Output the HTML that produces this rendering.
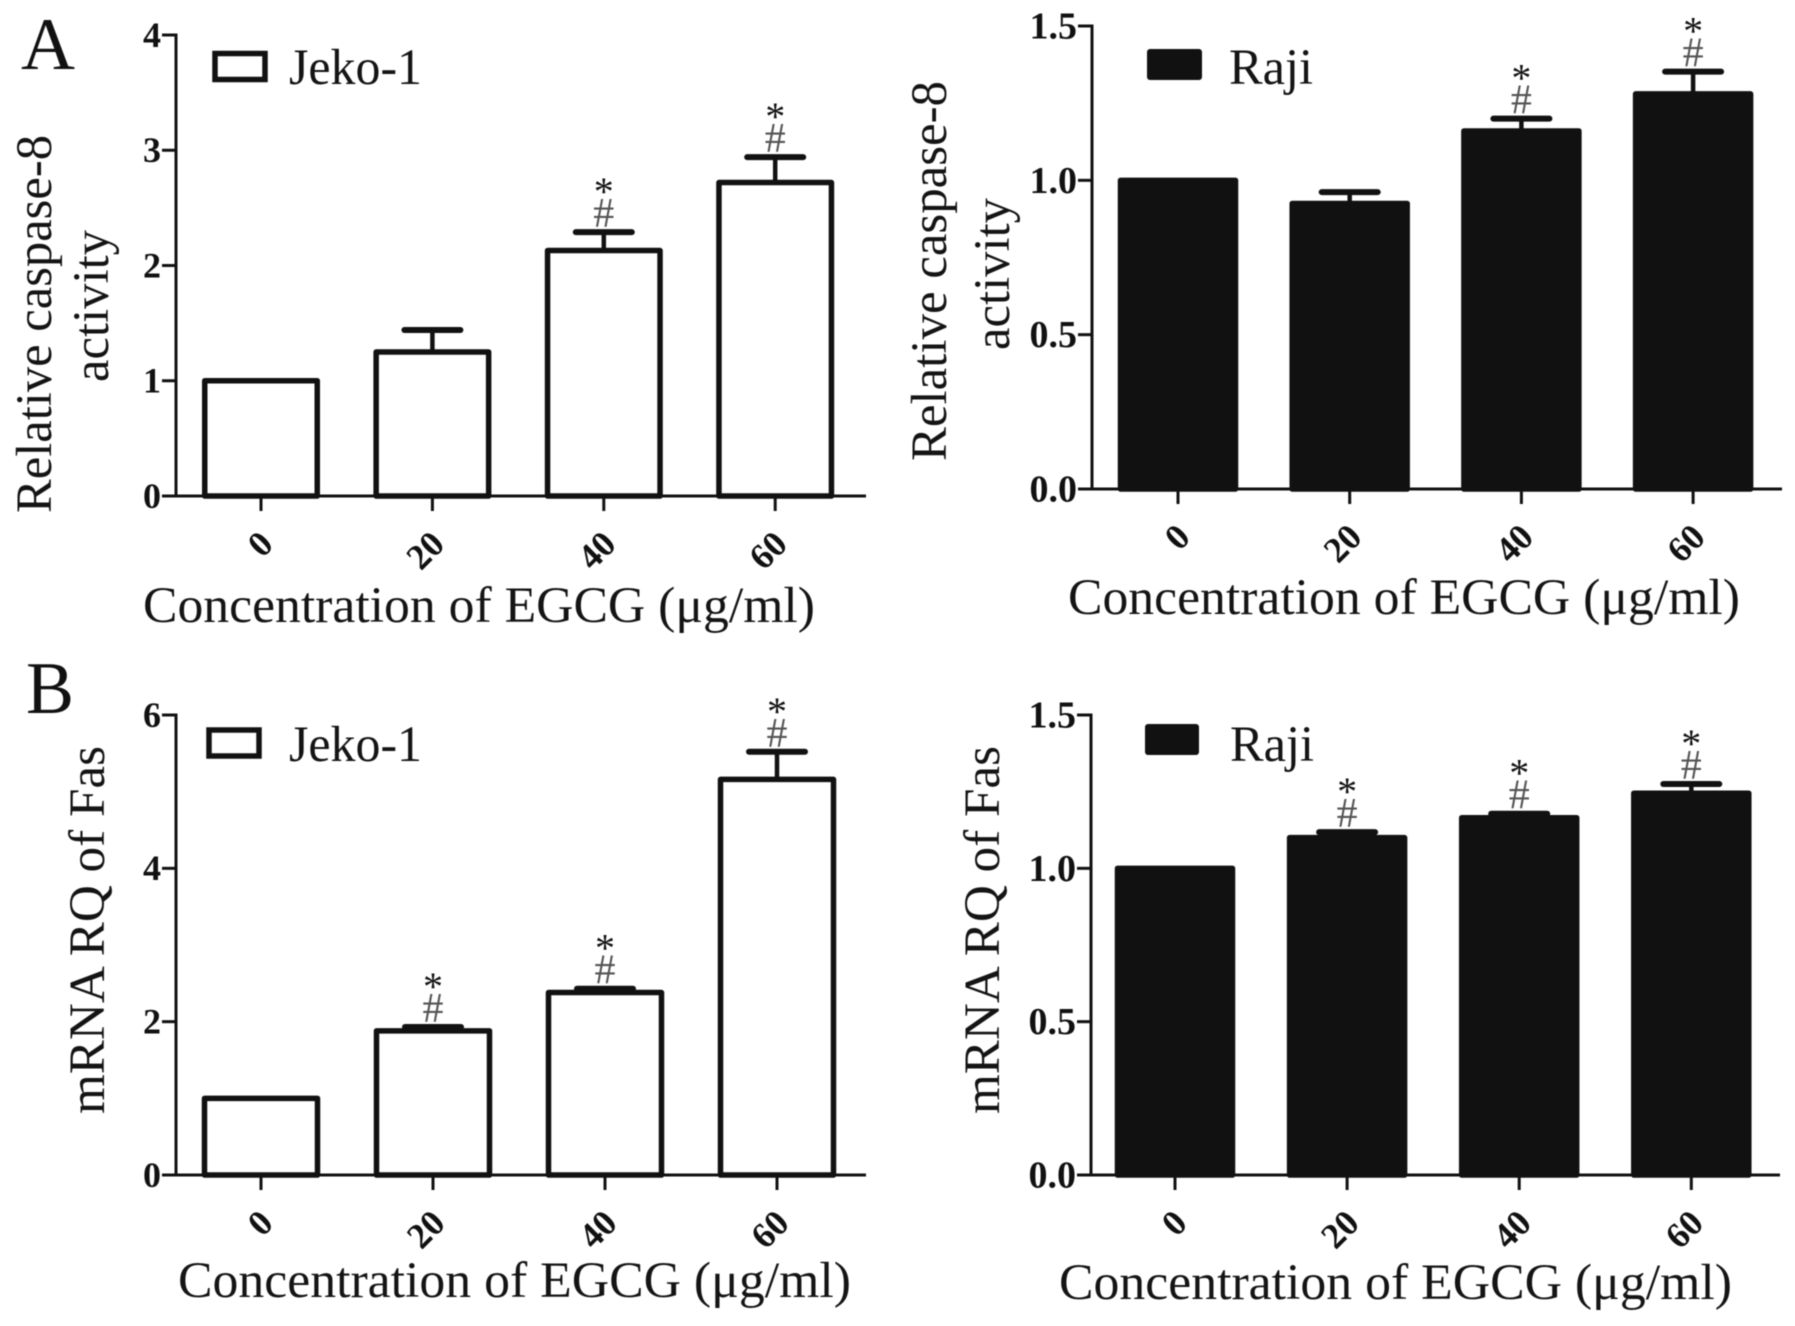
<!DOCTYPE html>
<html lang="en">
<head>
<meta charset="utf-8">
<title>Caspase-8 activity and Fas mRNA in Jeko-1 and Raji cells</title>
<style>
html,body{margin:0;padding:0;background:#fff;width:1795px;height:1326px;overflow:hidden}
svg{display:block;font-family:"Liberation Serif",serif;filter:blur(0.5px)}
.title{font-size:51px;fill:#141414}
.legend{font-size:51px;fill:#141414}
.tick{font-weight:bold;fill:#111}
.panel-letter{font-size:74px;fill:#111}
</style>
</head>
<body>
<svg id="figure" width="1795" height="1326" viewBox="0 0 1795 1326" xmlns="http://www.w3.org/2000/svg">
  <text class="panel-letter" x="21" y="69" textLength="54" lengthAdjust="spacingAndGlyphs">A</text>
  <text class="panel-letter" x="26" y="713" textLength="48" lengthAdjust="spacingAndGlyphs">B</text>

  <g id="chart-a-jeko">
    <text class="title" transform="translate(51,513) rotate(-90)" textLength="378" lengthAdjust="spacingAndGlyphs">Relative caspase-8</text>
    <text class="title" transform="translate(108,382) rotate(-90)" textLength="152" lengthAdjust="spacingAndGlyphs">activity</text>
    <text class="title" x="143" y="622" textLength="672" lengthAdjust="spacingAndGlyphs">Concentration of EGCG (μg/ml)</text>
    <rect x="215" y="53.5" width="50" height="26" fill="#fff" stroke="#111" stroke-width="5.5"/>
    <text class="legend" x="289" y="84" textLength="133" lengthAdjust="spacingAndGlyphs">Jeko-1</text>
  </g>

  <g id="chart-a-raji">
    <text class="title" transform="translate(946,461) rotate(-90)" textLength="380" lengthAdjust="spacingAndGlyphs">Relative caspase-8</text>
    <text class="title" transform="translate(1009,350) rotate(-90)" textLength="152" lengthAdjust="spacingAndGlyphs">activity</text>
    <text class="title" x="1068" y="614" textLength="672" lengthAdjust="spacingAndGlyphs">Concentration of EGCG (μg/ml)</text>
    <rect x="1147" y="49" width="55" height="31" rx="3" fill="#111"/>
    <text class="legend" x="1229" y="84" textLength="84" lengthAdjust="spacingAndGlyphs">Raji</text>
  </g>

  <g id="chart-b-jeko">
    <text class="title" transform="translate(104,1114) rotate(-90)" textLength="368" lengthAdjust="spacingAndGlyphs">mRNA RQ of Fas</text>
    <text class="title" x="178" y="1297" textLength="673" lengthAdjust="spacingAndGlyphs">Concentration of EGCG (μg/ml)</text>
    <rect x="209" y="730" width="50" height="26" fill="#fff" stroke="#111" stroke-width="5.5"/>
    <text class="legend" x="289" y="761" textLength="133" lengthAdjust="spacingAndGlyphs">Jeko-1</text>
  </g>

  <g id="chart-b-raji">
    <text class="title" transform="translate(999,1114) rotate(-90)" textLength="368" lengthAdjust="spacingAndGlyphs">mRNA RQ of Fas</text>
    <text class="title" x="1059" y="1299" textLength="673" lengthAdjust="spacingAndGlyphs">Concentration of EGCG (μg/ml)</text>
    <rect x="1145" y="724" width="54" height="31" rx="3" fill="#111"/>
    <text class="legend" x="1230" y="761" textLength="84" lengthAdjust="spacingAndGlyphs">Raji</text>
  </g>
</svg>

<script>
const categories = ['0', '20', '40', '60'];

const caspaseJekoValues = [1.0, 1.25, 2.13, 2.72];
const caspaseJekoErrors = [0, 0.19, 0.16, 0.22];
const caspaseJekoSignificant = [false, false, true, true];
const caspaseJekoTicks = ['0', '1', '2', '3', '4'];

const caspaseRajiValues = [1.0, 0.925, 1.16, 1.28];
const caspaseRajiErrors = [0, 0.037, 0.04, 0.072];
const caspaseRajiSignificant = [false, false, true, true];
const caspaseRajiTicks = ['0.0', '0.5', '1.0', '1.5'];

const fasJekoValues = [1.0, 1.88, 2.38, 5.16];
const fasJekoErrors = [0, 0.05, 0.05, 0.36];
const fasJekoSignificant = [false, true, true, true];
const fasJekoTicks = ['0', '2', '4', '6'];

const fasRajiValues = [1.0, 1.10, 1.165, 1.245];
const fasRajiErrors = [0, 0.018, 0.013, 0.03];
const fasRajiSignificant = [false, true, true, true];
const fasRajiTicks = ['0.0', '0.5', '1.0', '1.5'];

const SVG_NS = 'http://www.w3.org/2000/svg';
const INK = '#111';

function make(parent, tag, attrs, text) {
  const node = document.createElementNS(SVG_NS, tag);
  Object.keys(attrs).forEach(function (key) { node.setAttribute(key, attrs[key]); });
  if (text !== undefined) node.textContent = text;
  parent.appendChild(node);
  return node;
}

function drawChart(cfg) {
  const root = document.getElementById(cfg.id);
  const ticks = cfg.ticks.map(Number);
  const yMax = ticks[ticks.length - 1];
  const xScale = function (i) { return cfg.firstX + cfg.stepX * i; };
  const yScale = function (v) { return cfg.baseY - (v / yMax) * (cfg.baseY - cfg.topY); };

  cfg.values.forEach(function (value, i) {
    const cx = xScale(i);
    const top = yScale(value);
    const err = cfg.errors[i];
    if (err > 0) {
      const capY = yScale(value + err);
      const stem = make(root, 'line', { x1: cx, x2: cx, y1: top, y2: capY, stroke: INK, 'stroke-width': 4.5 });
      
      
      const cap = make(root, 'line', { x1: cx - 28, x2: cx + 28, y1: capY, y2: capY, stroke: INK, 'stroke-width': 6, 'stroke-linecap': 'round' });
      
      
    }
    const bar = make(root, 'rect', {
      x: cx - cfg.barWidth / 2, y: top, width: cfg.barWidth, height: cfg.baseY - top,
      fill: cfg.fill, stroke: INK, 'stroke-width': 5.5, 'stroke-linejoin': 'round'
    });
    
    

    if (cfg.significant[i]) {
      const refY = yScale(value + err);
      const hash = make(root, 'text', { x: cx, y: refY - 5, 'text-anchor': 'middle', 'font-size': 42, fill: '#555' }, '#');
      
      
      const star = make(root, 'text', { x: cx, y: refY - 27, 'text-anchor': 'middle', 'font-size': 40, fill: '#111' }, '*');
      
      
    }

    const tick = make(root, 'line', { x1: cx, x2: cx, y1: cfg.baseY, y2: cfg.baseY + 15, stroke: INK, 'stroke-width': 3 });
    
    
    const labelX = cx + 14;
    const labelY = cfg.baseY + 50;
    const label = make(root, 'text', {
      class: 'tick', 'font-size': 36, 'text-anchor': 'end',
      transform: 'translate(' + labelX + ',' + labelY + ') rotate(-45)'
    }, categories[i]);
    
    
  });

  cfg.ticks.forEach(function (tickText) {
    const y = yScale(Number(tickText));
    const tick = make(root, 'line', { x1: cfg.axisX - 14, x2: cfg.axisX, y1: y, y2: y, stroke: INK, 'stroke-width': 3 });
    
    
    const label = make(root, 'text', {
      class: 'tick', 'font-size': cfg.tickFont, 'text-anchor': 'end',
      x: cfg.axisX - 15, y: y + cfg.tickFont * 0.33
    }, tickText);
    
    
  });

  const yAxis = make(root, 'line', { x1: cfg.axisX, x2: cfg.axisX, y1: cfg.topY - 1.5, y2: cfg.baseY + 1.5, stroke: INK, 'stroke-width': 3 });
  
  
  const xAxis = make(root, 'line', { x1: cfg.axisX - 14, x2: cfg.axisEnd, y1: cfg.baseY, y2: cfg.baseY, stroke: INK, 'stroke-width': 3 });
  
  
}

drawChart({
  id: 'chart-a-jeko', values: caspaseJekoValues, errors: caspaseJekoErrors,
  significant: caspaseJekoSignificant, ticks: caspaseJekoTicks,
  fill: '#fff', axisX: 176, axisEnd: 866, topY: 35, baseY: 496,
  firstX: 261, stepX: 171.4, barWidth: 112.5, tickFont: 36
});
drawChart({
  id: 'chart-a-raji', values: caspaseRajiValues, errors: caspaseRajiErrors,
  significant: caspaseRajiSignificant, ticks: caspaseRajiTicks,
  fill: INK, axisX: 1092, axisEnd: 1782, topY: 26, baseY: 489,
  firstX: 1178, stepX: 171.7, barWidth: 115, tickFont: 38
});
drawChart({
  id: 'chart-b-jeko', values: fasJekoValues, errors: fasJekoErrors,
  significant: fasJekoSignificant, ticks: fasJekoTicks,
  fill: '#fff', axisX: 176, axisEnd: 866, topY: 715, baseY: 1175,
  firstX: 261, stepX: 172, barWidth: 113, tickFont: 36
});
drawChart({
  id: 'chart-b-raji', values: fasRajiValues, errors: fasRajiErrors,
  significant: fasRajiSignificant, ticks: fasRajiTicks,
  fill: INK, axisX: 1091, axisEnd: 1780, topY: 715, baseY: 1175,
  firstX: 1175, stepX: 172.1, barWidth: 115, tickFont: 38
});
</script>
</body>
</html>
